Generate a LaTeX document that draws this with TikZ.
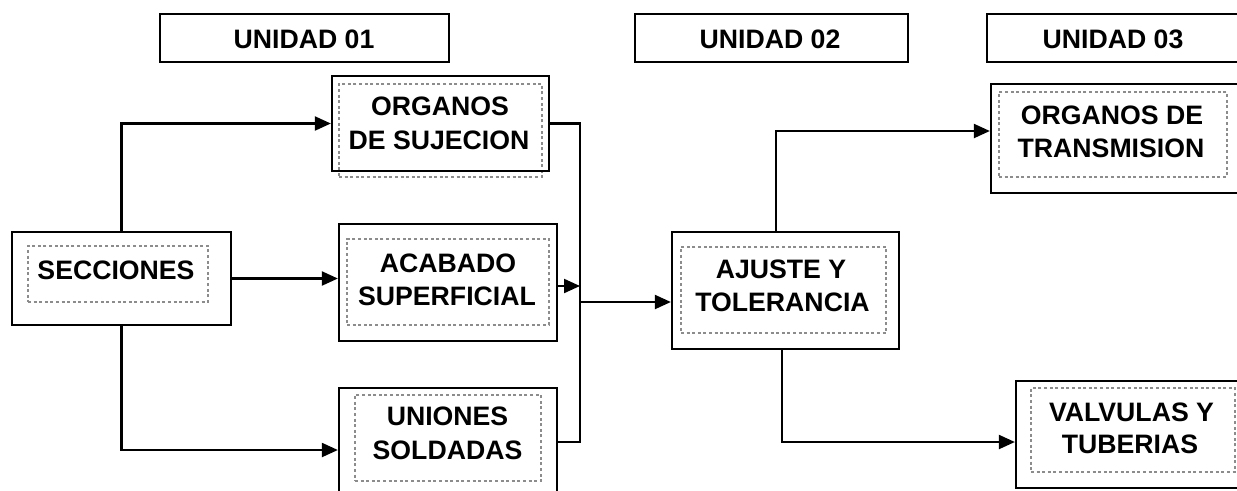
\documentclass[tikz,border=0pt]{standalone}
\usepackage{fontspec}
\setmainfont{Liberation Sans}
\usetikzlibrary{arrows.meta}
\definecolor{dotgray}{RGB}{140,140,140}
\newcommand{\mkbox}[6]{%
  \node[#1, minimum width={(#5-#3)*0.75pt}, minimum height={(#6-#4)*0.75pt}] (#2) at ({(#3+#5)/2},{(#4+#6)/2}) {};}
\begin{document}
\begin{tikzpicture}[x=0.75pt,y=-0.75pt,
  outerbox/.style={draw, line width=1.7pt, rectangle, inner sep=0pt},
  innerbox/.style={draw=dotgray, line width=1.3pt, dash pattern=on 2.2pt off 2pt, rectangle, inner sep=0pt, outer sep=0pt},
  lbl/.style={anchor=base, inner sep=0pt, font=\bfseries\fontsize{20}{24}\selectfont},
  conn/.style={line width=1.6pt},
  arr/.style={conn, -{Triangle[length=12pt,width=10.5pt]}}]
\useasboundingbox (0,0) rectangle (1237,490);
\clip (0,0) rectangle (1237,490);
\fill[white] (0,0) rectangle (1237,490);
% headers
\mkbox{outerbox}{u1}{160}{14}{449}{62}
\mkbox{outerbox}{u2}{635}{14}{908}{62}
\mkbox{outerbox}{u3}{987}{14}{1260}{62}
\node[lbl] (u1t) at (304,48.5) {UNIDAD 01};
\node[lbl] (u2t) at (770,48.5) {UNIDAD 02};
\node[lbl] (u3t) at (1113,48.5) {UNIDAD 03};
% inner dotted frames
\mkbox{innerbox}{seci}{28}{246}{208}{302}
\mkbox{innerbox}{orgi}{339}{84}{542}{177}
\mkbox{innerbox}{acai}{347}{239}{549}{325}
\mkbox{innerbox}{unii}{355}{395}{541}{481}
\mkbox{innerbox}{ajui}{681}{247}{886}{333}
\mkbox{innerbox}{oti}{999}{92}{1227}{177}
\mkbox{innerbox}{vti}{1031}{388}{1235}{472}
% outer boxes
\mkbox{outerbox}{sec}{12}{232}{231}{325}
\mkbox{outerbox}{org}{332}{76}{549}{171}
\mkbox{outerbox}{aca}{339}{224}{557}{341}
\mkbox{outerbox}{uni}{339}{388}{557}{512}
\mkbox{outerbox}{aju}{672}{232}{899}{349}
\mkbox{outerbox}{ot}{991}{84}{1260}{193}
\mkbox{outerbox}{vt}{1016}{381}{1260}{488}
% texts
\node[lbl] (secT) at (116,279) {SECCIONES};
\node[lbl] (orgA) at (440,115) {ORGANOS};
\node[lbl] (orgB) at (439,149) {DE SUJECION};
\node[lbl] (acaA) at (448,272) {ACABADO};
\node[lbl] (acaB) at (447,305) {SUPERFICIAL};
\node[lbl] (uniA) at (447.5,425) {UNIONES};
\node[lbl] (uniB) at (447.5,459) {SOLDADAS};
\node[lbl] (ajuA) at (781,278) {AJUSTE Y};
\node[lbl] (ajuB) at (782.5,311) {TOLERANCIA};
\node[lbl] (otA) at (1112,124) {ORGANOS DE};
\node[lbl] (otB) at (1111,157) {TRANSMISION};
\node[lbl] (vtA) at (1131.5,421) {VALVULAS Y};
\node[lbl] (vtB) at (1130,453) {TUBERIAS};
% junction coordinates
\coordinate (jb) at (580,442);
\coordinate (ja) at (580,286);
\coordinate (jm) at (580,302);
\coordinate (at) at (776,131);
\coordinate (ab) at (782,442);
% connectors
\draw[arr] (sec.north) |- (org.west);
\draw[arr] (sec.east) -- (sec.east -| aca.west);
\draw[arr] (sec.south) |- (uni.west);
\draw[conn] (org.east) -| (jb) -- (jb -| uni.east);
\draw[arr] (ja -| aca.east) -- (ja);
\draw[arr] (jm) -- (jm -| aju.west);
\draw[arr] (at |- aju.north) -- (at) -- (at -| ot.west);
\draw[arr] (ab |- aju.south) -- (ab) -- (ab -| vt.west);
\end{tikzpicture}
\end{document}
